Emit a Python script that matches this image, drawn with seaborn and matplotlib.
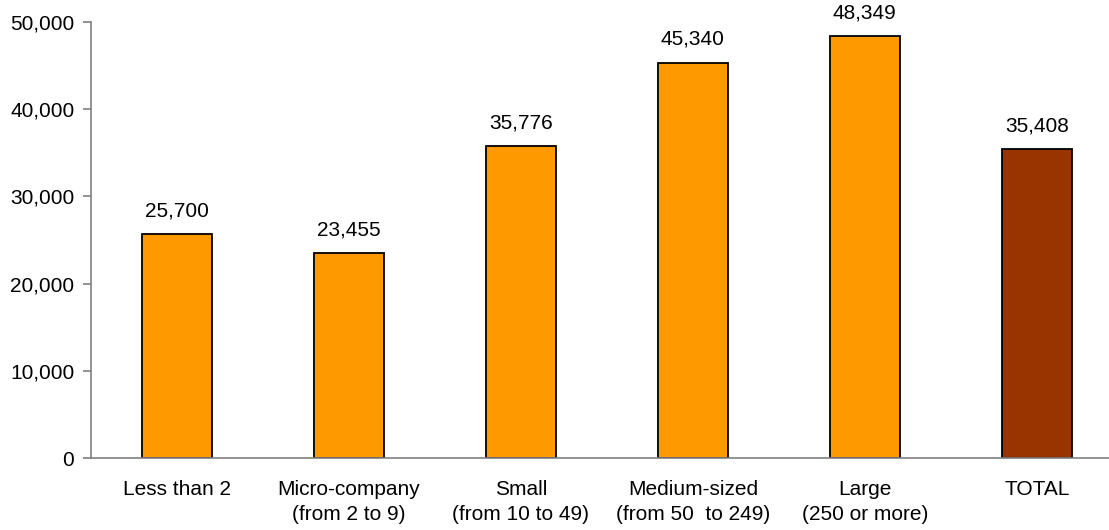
import matplotlib
matplotlib.use('Agg')
import matplotlib.pyplot as plt
import seaborn as sns
import pandas as pd
from matplotlib.ticker import FuncFormatter

categories = ['Less than 2', 'Micro-company\n(from 2 to 9)', 'Small\n(from 10 to 49)',
              'Medium-sized\n(from 50  to 249)', 'Large\n(250 or more)', 'TOTAL']
values = [25700, 23455, 35776, 45340, 48349, 35408]
colors = ['#FF9900', '#FF9900', '#FF9900', '#FF9900', '#FF9900', '#993300']

sns.set_style('white')
plt.rcParams['font.family'] = ['Liberation Sans', 'DejaVu Sans']
plt.rcParams['text.color'] = 'black'
plt.rcParams['xtick.color'] = 'black'
plt.rcParams['ytick.color'] = 'black'

df = pd.DataFrame({'cat': categories, 'val': values})

fig = plt.figure(figsize=(11.09, 5.30), dpi=100)
ax = fig.add_axes([91 / 1109, 72 / 530, 1 - 91 / 1109, (458 - 22) / 530])

sns.barplot(data=df, x='cat', y='val', hue='cat', palette=colors, legend=False,
            width=0.41, edgecolor='black', linewidth=1.3, ax=ax, saturation=1)

for i, v in enumerate(values):
    ax.annotate(f'{v:,}', (i, v), xytext=(0, 10), textcoords='offset points',
                ha='center', va='bottom', fontsize=15, color='black')

ax.set_ylim(0, 50000)
ax.set_yticks(range(0, 50001, 10000))
ax.yaxis.set_major_formatter(FuncFormatter(lambda x, p: f'{int(x):,}'))
ax.set_xlim(-0.5, 5.42)
ax.set_xlabel('')
ax.set_ylabel('')

for s in ['top', 'right']:
    ax.spines[s].set_visible(False)
for s in ['left', 'bottom']:
    ax.spines[s].set_color('#808080')
    ax.spines[s].set_linewidth(1.2)

ax.tick_params(axis='y', which='major', left=True, length=6, width=1.2, color='#808080',
               labelsize=15, labelcolor='black', pad=6)
ax.tick_params(axis='x', bottom=False, labelsize=15, labelcolor='black', pad=12)
for lab in ax.get_xticklabels():
    lab.set_linespacing(1.45)

fig.savefig('out.png', dpi=100)
